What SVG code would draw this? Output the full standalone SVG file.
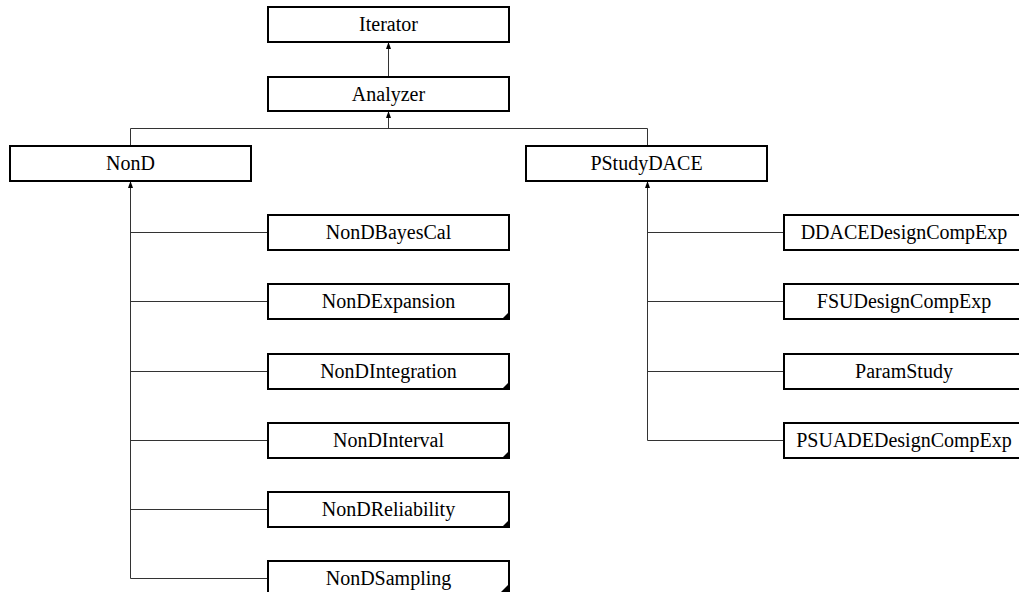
<svg xmlns="http://www.w3.org/2000/svg" width="1019" height="592" viewBox="0 0 1019 592">
<defs>
<style>
.box{fill:#fff;stroke:#000;stroke-width:2}
.lbl{font-family:'Times New Roman',Tinos,Times,'Liberation Serif','Noto Serif','DejaVu Serif',serif;font-size:20px;fill:#000;text-anchor:middle}
.ln{fill:none;stroke:#333;stroke-width:1}
.tri{fill:#000}
.ah{fill:#000}
</style>
</defs>
<g id="connectors">
<path class="ln" d="M388.5,77 V42.5"/>
<path class="ln" d="M388.5,128.5 V111.5"/>
<path class="ln" d="M130.5,128.5 H647.5"/>
<path class="ln" d="M130.5,128.5 V146"/>
<path class="ln" d="M647.5,128.5 V146"/>
<path class="ln" d="M130.5,578.5 V182"/>
<path class="ln" d="M130.5,232.5 H268 M130.5,301.5 H268 M130.5,371.5 H268 M130.5,440.5 H268 M130.5,509.5 H268 M130.5,578.5 H268"/>
<path class="ln" d="M647.5,440.5 V182"/>
<path class="ln" d="M647.5,232.5 H784 M647.5,301.5 H784 M647.5,371.5 H784 M647.5,440.5 H784"/>
<path class="ah" d="M386,49 L388.5,42 L391,49 Z"/>
<path class="ah" d="M386,118 L388.5,111 L391,118 Z"/>
<path class="ah" d="M128,188 L130.5,181 L133,188 Z"/>
<path class="ah" d="M645,188 L647.5,181 L650,188 Z"/>
</g>
<g id="Iterator"><rect class="box" x="268" y="7" width="241" height="35"/><text class="lbl" x="388.5" y="31">Iterator</text></g>
<g id="Analyzer"><rect class="box" x="268" y="77" width="241" height="34"/><text class="lbl" x="388.5" y="101">Analyzer</text></g>
<g id="NonD"><rect class="box" x="10" y="146" width="241" height="35"/><text class="lbl" x="130.5" y="170">NonD</text></g>
<g id="PStudyDACE"><rect class="box" x="526" y="146" width="241" height="35"/><text class="lbl" x="646.5" y="170">PStudyDACE</text></g>
<g id="NonDBayesCal"><rect class="box" x="268" y="215" width="241" height="35"/><text class="lbl" x="388.5" y="239">NonDBayesCal</text></g>
<g id="NonDExpansion"><rect class="box" x="268" y="284" width="241" height="35"/><text class="lbl" x="388.5" y="308">NonDExpansion</text><path class="tri" d="M510,311 V320 H501 Z"/></g>
<g id="NonDIntegration"><rect class="box" x="268" y="354" width="241" height="35"/><text class="lbl" x="388.5" y="378">NonDIntegration</text><path class="tri" d="M510,381 V390 H501 Z"/></g>
<g id="NonDInterval"><rect class="box" x="268" y="423" width="241" height="35"/><text class="lbl" x="388.5" y="447">NonDInterval</text><path class="tri" d="M510,450 V459 H501 Z"/></g>
<g id="NonDReliability"><rect class="box" x="268" y="492" width="241" height="35"/><text class="lbl" x="388.5" y="516">NonDReliability</text><path class="tri" d="M510,519 V528 H501 Z"/></g>
<g id="NonDSampling"><rect class="box" x="268" y="561" width="241" height="35"/><text class="lbl" x="388.5" y="585">NonDSampling</text><path class="tri" d="M510,583 V592 H501 Z"/></g>
<g id="DDACEDesignCompExp"><rect class="box" x="784" y="215" width="241" height="35"/><text class="lbl" x="904" y="239">DDACEDesignCompExp</text></g>
<g id="FSUDesignCompExp"><rect class="box" x="784" y="284" width="241" height="35"/><text class="lbl" x="904" y="308">FSUDesignCompExp</text></g>
<g id="ParamStudy"><rect class="box" x="784" y="354" width="241" height="35"/><text class="lbl" x="904" y="378">ParamStudy</text></g>
<g id="PSUADEDesignCompExp"><rect class="box" x="784" y="423" width="241" height="35"/><text class="lbl" x="904" y="447">PSUADEDesignCompExp</text></g>
</svg>
